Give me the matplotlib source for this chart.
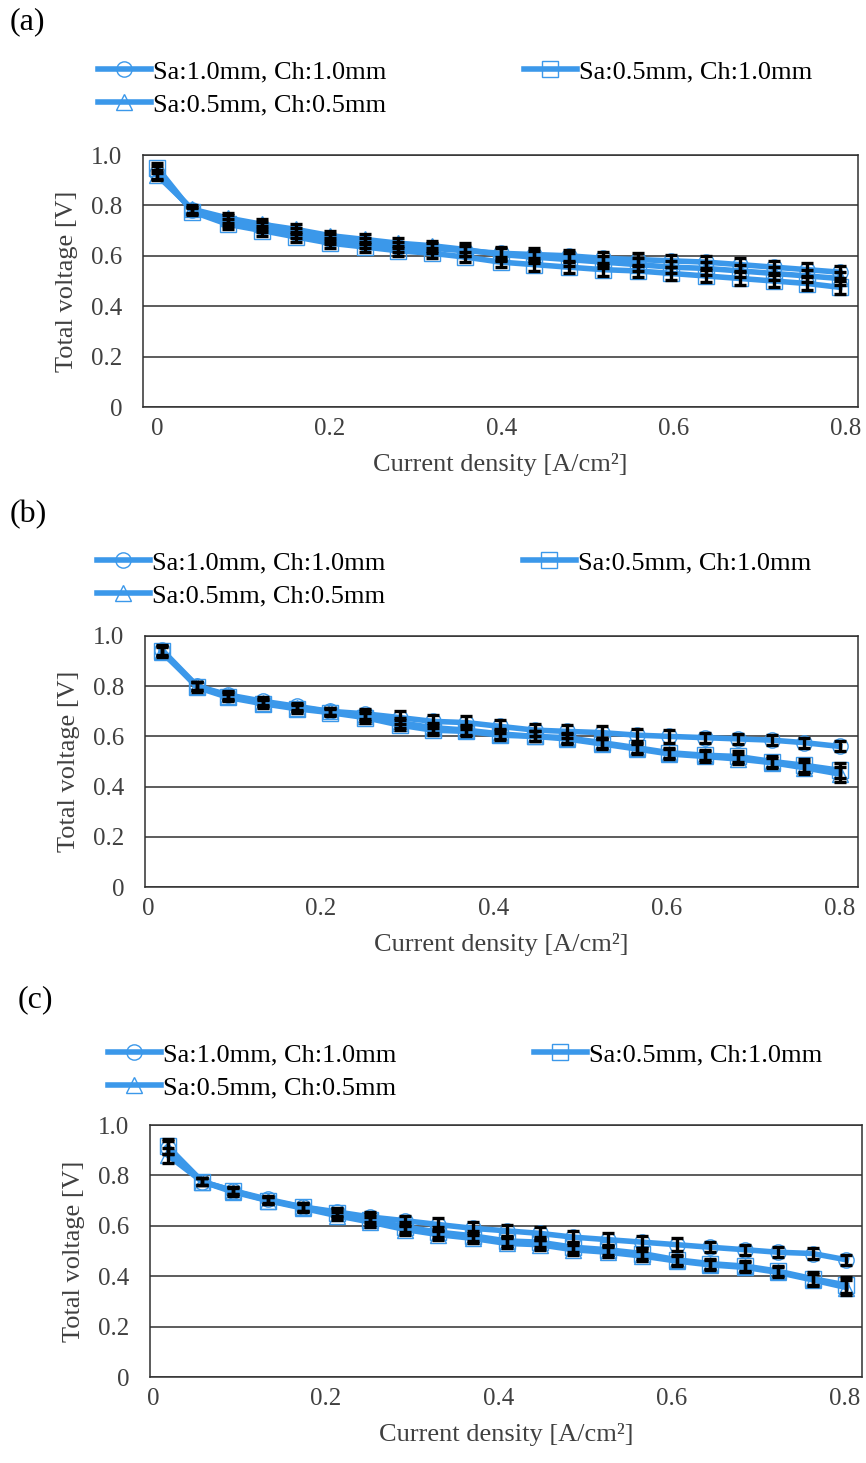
import matplotlib
matplotlib.use("Agg")
import matplotlib.pyplot as plt

plt.rcParams["font.family"] = ["Liberation Serif", "DejaVu Serif"]

# current density [A/cm2] of each measurement point
xa = [0.000, 0.041, 0.082, 0.122, 0.161, 0.201, 0.241, 0.280, 0.319, 0.358, 0.399,
      0.438, 0.478, 0.518, 0.558, 0.597, 0.637, 0.677, 0.716, 0.755, 0.793]
xb = [0.016, 0.057, 0.093, 0.133, 0.172, 0.210, 0.251, 0.291, 0.329, 0.368, 0.407,
      0.447, 0.484, 0.525, 0.565, 0.603, 0.644, 0.682, 0.722, 0.759, 0.800]
xc = [0.017, 0.057, 0.092, 0.133, 0.173, 0.213, 0.251, 0.292, 0.330, 0.370, 0.409,
      0.447, 0.486, 0.526, 0.566, 0.606, 0.644, 0.685, 0.723, 0.763, 0.802]

# total voltage [V]
a_sa10_ch10 = [0.93, 0.78, 0.74, 0.715, 0.69, 0.665, 0.65, 0.635, 0.63, 0.62, 0.61,
               0.605, 0.60, 0.59, 0.585, 0.58, 0.575, 0.565, 0.555, 0.545, 0.535]
a_sa05_ch05 = [0.92, 0.785, 0.75, 0.725, 0.705, 0.68, 0.665, 0.65, 0.64, 0.625, 0.605,
               0.595, 0.585, 0.575, 0.565, 0.555, 0.55, 0.54, 0.53, 0.52, 0.51]
a_sa05_ch10 = [0.95, 0.775, 0.725, 0.70, 0.675, 0.65, 0.635, 0.62, 0.61, 0.595, 0.575,
               0.565, 0.555, 0.545, 0.54, 0.53, 0.52, 0.51, 0.50, 0.49, 0.475]

b_sa10_ch10 = [0.945, 0.80, 0.765, 0.74, 0.72, 0.70, 0.69, 0.675, 0.66, 0.655, 0.64,
               0.625, 0.62, 0.615, 0.605, 0.60, 0.595, 0.59, 0.585, 0.575, 0.56]
b_sa05_ch05 = [0.935, 0.80, 0.76, 0.735, 0.715, 0.70, 0.68, 0.655, 0.635, 0.625, 0.61,
               0.60, 0.59, 0.57, 0.55, 0.53, 0.52, 0.51, 0.495, 0.475, 0.45]
b_sa05_ch10 = [0.94, 0.795, 0.755, 0.73, 0.71, 0.695, 0.675, 0.645, 0.625, 0.62, 0.605,
               0.60, 0.595, 0.575, 0.555, 0.535, 0.525, 0.52, 0.50, 0.485, 0.465]

c_sa10_ch10 = [0.91, 0.775, 0.74, 0.705, 0.675, 0.655, 0.635, 0.62, 0.605, 0.59, 0.58,
               0.57, 0.555, 0.545, 0.535, 0.525, 0.515, 0.505, 0.495, 0.49, 0.465]
c_sa05_ch05 = [0.88, 0.775, 0.735, 0.70, 0.67, 0.64, 0.615, 0.585, 0.565, 0.55, 0.53,
               0.525, 0.505, 0.495, 0.48, 0.46, 0.445, 0.435, 0.415, 0.385, 0.355]
c_sa05_ch10 = [0.915, 0.775, 0.74, 0.70, 0.675, 0.65, 0.625, 0.595, 0.575, 0.56, 0.54,
               0.535, 0.515, 0.505, 0.49, 0.465, 0.45, 0.44, 0.42, 0.39, 0.365]

# standard deviation of the voltage [V]
a_err10_10 = [0.025, 0.015, 0.02, 0.02, 0.02, 0.02, 0.02, 0.02, 0.02, 0.02, 0.025,
              0.025, 0.025, 0.025, 0.025, 0.025, 0.025, 0.025, 0.025, 0.025, 0.025]
a_err05_05 = [0.02, 0.015, 0.02, 0.02, 0.02, 0.02, 0.02, 0.02, 0.02, 0.025, 0.025,
              0.025, 0.025, 0.025, 0.025, 0.025, 0.025, 0.025, 0.025, 0.025, 0.025]
a_err05_10 = [0.02, 0.015, 0.02, 0.02, 0.02, 0.02, 0.02, 0.02, 0.02, 0.02, 0.02,
              0.025, 0.025, 0.025, 0.025, 0.025, 0.025, 0.025, 0.025, 0.025, 0.025]
b_err10_10 = [0.02, 0.015, 0.015, 0.015, 0.015, 0.015, 0.02, 0.025, 0.025, 0.025, 0.025,
              0.025, 0.025, 0.025, 0.025, 0.025, 0.02, 0.02, 0.02, 0.02, 0.02]
b_err05_05 = [0.02, 0.015, 0.015, 0.015, 0.015, 0.015, 0.02, 0.02, 0.02, 0.02, 0.02,
              0.02, 0.02, 0.02, 0.02, 0.02, 0.02, 0.02, 0.02, 0.025, 0.03]
b_err05_10 = [0.02, 0.02, 0.015, 0.015, 0.015, 0.015, 0.02, 0.02, 0.02, 0.02, 0.02,
              0.02, 0.02, 0.02, 0.02, 0.02, 0.02, 0.02, 0.02, 0.025, 0.03]
c_err10_10 = [0.025, 0.015, 0.015, 0.015, 0.015, 0.015, 0.02, 0.02, 0.025, 0.025, 0.025,
              0.025, 0.025, 0.025, 0.025, 0.025, 0.02, 0.02, 0.02, 0.02, 0.02]
c_err05_05 = [0.03, 0.015, 0.015, 0.015, 0.015, 0.015, 0.02, 0.02, 0.02, 0.02, 0.02,
              0.02, 0.02, 0.02, 0.02, 0.02, 0.02, 0.02, 0.02, 0.025, 0.03]
c_err05_10 = [0.03, 0.015, 0.015, 0.015, 0.015, 0.015, 0.02, 0.02, 0.02, 0.02, 0.02,
              0.02, 0.02, 0.02, 0.02, 0.02, 0.02, 0.02, 0.02, 0.025, 0.03]

labels = ["Sa:1.0mm, Ch:1.0mm", "Sa:0.5mm, Ch:0.5mm", "Sa:0.5mm, Ch:1.0mm"]
markers = ["o", "^", "s"]
x_ticks = [0, 0.2, 0.4, 0.6, 0.8]
x_tick_labels = ["0", "0.2", "0.4", "0.6", "0.8"]
y_ticks = [0, 0.2, 0.4, 0.6, 0.8, 1.0]
y_tick_labels = ["0", "0.2", "0.4", "0.6", "0.8", "1.0"]

BLUE = "#3b98ea"
GREY = "#404040"

W, H = 866, 1463
fig = plt.figure(figsize=(W / 100, H / 100), dpi=100)

panels = [
    # tag, x, series, errors, axes box (px), xlim, tag pos, legend anchor
    ("(a)", xa, [a_sa10_ch10, a_sa05_ch05, a_sa05_ch10], [a_err10_10, a_err05_05, a_err05_10],
     (143, 155, 858, 407), (-0.0163, 0.814), (10, 22), (98, 60)),
    ("(b)", xb, [b_sa10_ch10, b_sa05_ch05, b_sa05_ch10], [b_err10_10, b_err05_05, b_err05_10],
     (145, 636, 858, 887), (-0.0035, 0.821), (10, 515), (97, 551)),
    ("(c)", xc, [c_sa10_ch10, c_sa05_ch05, c_sa05_ch10], [c_err10_10, c_err05_05, c_err05_10],
     (150, 1125, 862, 1377), (-0.0035, 0.820), (18, 1000), (108, 1043)),
]

for tag, x, series, errs, box, xlim, tagpos, legpos in panels:
    l, t, r, b = box
    ax = fig.add_axes([l / W, 1 - b / H, (r - l) / W, (b - t) / H])
    handles = []
    for y, e, m, lab in zip(series, errs, markers, labels):
        h, = ax.plot(x, y, color=BLUE, lw=4, marker=m, ms=11, mfc="none",
                     mec=BLUE, mew=1.0, label=lab, zorder=3)
        ax.errorbar(x, y, yerr=e, fmt="none", ecolor="black", elinewidth=2.4,
                    capsize=4, capthick=2.4, zorder=4)
        handles.append(h)
    ax.set_xlim(*xlim)
    ax.set_ylim(0, 1.0)
    ax.set_xticks(x_ticks, x_tick_labels)
    ax.set_yticks(y_ticks, y_tick_labels)
    ax.tick_params(length=0, labelsize=18, labelcolor=GREY)
    ax.tick_params(axis="y", pad=15)
    ax.tick_params(axis="x", pad=8)
    ax.yaxis.grid(True, color="#303030", lw=1.1)
    ax.set_axisbelow(True)
    for s in ax.spines.values():
        s.set_color("#303030")
        s.set_linewidth(1.1)
    ax.set_xlabel("Current density [A/cm²]", fontsize=19, color=GREY, labelpad=9)
    ax.set_ylabel("Total voltage [V]", fontsize=19, color=GREY, labelpad=9)
    fig.text(tagpos[0] / W, 1 - tagpos[1] / H, tag, fontsize=23, va="center", ha="left")
    ax.legend(handles=handles, ncol=2, loc="upper left", frameon=False,
              bbox_to_anchor=(legpos[0] / W, 1 - legpos[1] / H), bbox_transform=fig.transFigure,
              borderaxespad=0, borderpad=0, fontsize=19, handlelength=2.0,
              handletextpad=0.1, columnspacing=5.2, labelspacing=0.35, numpoints=1)

plt.savefig("out.png", dpi=100)
